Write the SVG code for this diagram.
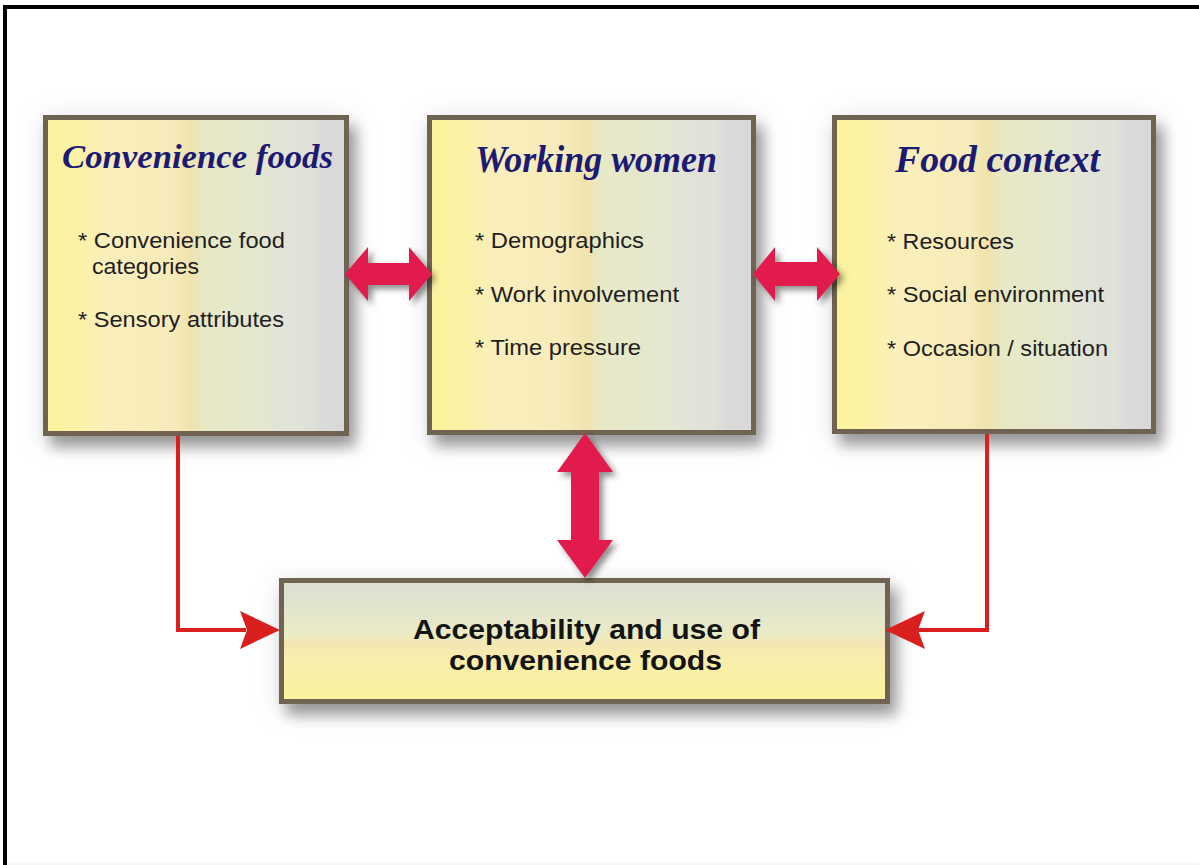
<svg xmlns="http://www.w3.org/2000/svg" width="1199" height="865" viewBox="0 0 1199 865">
<defs>
<linearGradient id="gH" x1="0" y1="0" x2="1" y2="0">
<stop offset="0" stop-color="#fcf39c"/>
<stop offset="0.12" stop-color="#fbf2a8"/>
<stop offset="0.2" stop-color="#faefbc"/>
<stop offset="0.42" stop-color="#f7ebbb"/>
<stop offset="0.48" stop-color="#f0e3ad"/>
<stop offset="0.53" stop-color="#e7e9c6"/>
<stop offset="0.72" stop-color="#e4e7cf"/>
<stop offset="0.78" stop-color="#e2e4d8"/>
<stop offset="0.88" stop-color="#e0e1d8"/>
<stop offset="0.92" stop-color="#dadada"/>
<stop offset="1" stop-color="#d9d9d9"/>
</linearGradient>
<linearGradient id="gV" x1="0" y1="0" x2="0" y2="1">
<stop offset="0" stop-color="#dcdfd3"/>
<stop offset="0.3" stop-color="#e4e7cc"/>
<stop offset="0.45" stop-color="#ebecc3"/>
<stop offset="0.52" stop-color="#f4e6b2"/>
<stop offset="0.65" stop-color="#f8eeac"/>
<stop offset="1" stop-color="#fbf39b"/>
</linearGradient>
<filter id="boxShadow" x="-15%" y="-15%" width="135%" height="145%">
<feGaussianBlur in="SourceAlpha" stdDeviation="14" result="b1"/>
<feOffset in="b1" dx="2" dy="5" result="o1"/>
<feFlood flood-color="#000" flood-opacity="0.13"/>
<feComposite in2="o1" operator="in" result="s1"/>
<feGaussianBlur in="SourceAlpha" stdDeviation="7" result="b2"/>
<feOffset in="b2" dx="7" dy="11" result="o2"/>
<feFlood flood-color="#000" flood-opacity="0.35"/>
<feComposite in2="o2" operator="in" result="s2"/>
<feMerge><feMergeNode in="s1"/><feMergeNode in="s2"/><feMergeNode in="SourceGraphic"/></feMerge>
</filter>
<filter id="arrShadow" x="-20%" y="-20%" width="150%" height="150%">
<feGaussianBlur in="SourceAlpha" stdDeviation="3" result="b"/>
<feOffset in="b" dx="4" dy="4" result="o"/>
<feFlood flood-color="#000" flood-opacity="0.45"/>
<feComposite in2="o" operator="in" result="s"/>
<feMerge><feMergeNode in="s"/><feMergeNode in="SourceGraphic"/></feMerge>
</filter>
</defs>
<style>
.box{stroke:#6f6451;stroke-width:5;}
.title{font-family:"Liberation Serif","DejaVu Serif",serif;font-style:italic;font-weight:bold;fill:#1c1a72;}
.item{font-family:"Liberation Sans",Arial,sans-serif;font-size:22.5px;fill:#1e1e1e;}
.main{font-family:"Liberation Sans",Arial,sans-serif;font-size:28px;font-weight:bold;fill:#141414;}
.dbl{fill:#e11b4e;}
.line{fill:none;stroke:#d9201f;stroke-width:4;}
.head{fill:#d9201f;}
</style>
<rect x="0" y="0" width="1199" height="865" fill="#ffffff"/>
<path d="M5,865 L5,7 L1199,7" fill="none" stroke="#000" stroke-width="4"/>
<line x1="7" y1="864" x2="1199" y2="864" stroke="#eeeeee" stroke-width="1"/>

<g id="node-convenience-foods">
<rect class="box" x="45.5" y="117.5" width="301" height="316" fill="url(#gH)" filter="url(#boxShadow)"/>
<text class="title" x="62" y="168" font-size="33" textLength="271" lengthAdjust="spacingAndGlyphs">Convenience foods</text>
<text class="item" x="78" y="248" textLength="207" lengthAdjust="spacingAndGlyphs">* Convenience food</text>
<text class="item" x="92" y="274" textLength="107" lengthAdjust="spacingAndGlyphs">categories</text>
<text class="item" x="78" y="327" textLength="206" lengthAdjust="spacingAndGlyphs">* Sensory attributes</text>
</g>

<g id="node-working-women">
<rect class="box" x="429.5" y="117.5" width="324" height="315" fill="url(#gH)" filter="url(#boxShadow)"/>
<text class="title" x="475" y="172" font-size="37" textLength="242" lengthAdjust="spacingAndGlyphs">Working women</text>
<text class="item" x="475" y="248" textLength="169" lengthAdjust="spacingAndGlyphs">* Demographics</text>
<text class="item" x="475" y="302" textLength="204" lengthAdjust="spacingAndGlyphs">* Work involvement</text>
<text class="item" x="475" y="355" textLength="166" lengthAdjust="spacingAndGlyphs">* Time pressure</text>
</g>

<g id="node-food-context">
<rect class="box" x="834.5" y="117.5" width="319" height="314" fill="url(#gH)" filter="url(#boxShadow)"/>
<text class="title" x="895" y="172" font-size="37" textLength="205" lengthAdjust="spacingAndGlyphs">Food context</text>
<text class="item" x="887" y="249" textLength="127" lengthAdjust="spacingAndGlyphs">* Resources</text>
<text class="item" x="887" y="302" textLength="217" lengthAdjust="spacingAndGlyphs">* Social environment</text>
<text class="item" x="887" y="356" textLength="221" lengthAdjust="spacingAndGlyphs">* Occasion / situation</text>
</g>

<g id="node-acceptability">
<rect class="box" x="281.5" y="580.5" width="606" height="121" fill="url(#gV)" filter="url(#boxShadow)"/>
<text class="main" x="413" y="639" textLength="347" lengthAdjust="spacingAndGlyphs">Acceptability and use of</text>
<text class="main" x="449" y="670" textLength="273" lengthAdjust="spacingAndGlyphs">convenience foods</text>
</g>

<g id="connectors">
<path class="dbl" filter="url(#arrShadow)" d="M345,274 L368,247 L368,263 L409,263 L409,247 L432,274 L409,301 L409,285 L368,285 L368,301 Z"/>
<path class="dbl" filter="url(#arrShadow)" d="M753,274 L775,247 L775,262 L817,262 L817,247 L840,274 L817,301 L817,286 L775,286 L775,301 Z"/>
<path class="dbl" filter="url(#arrShadow)" d="M585,433 L613,472 L599,472 L599,540 L613,540 L585,578 L557,540 L571,540 L571,472 L557,472 Z"/>
<path class="line" d="M178,436 L178,630 L246,630"/>
<path class="head" d="M280,630 L240,611 L247,630 L240,649 Z"/>
<path class="line" d="M987,434 L987,630 L918,630"/>
<path class="head" d="M885,630 L925,611 L918,630 L925,649 Z"/>
</g>
</svg>
